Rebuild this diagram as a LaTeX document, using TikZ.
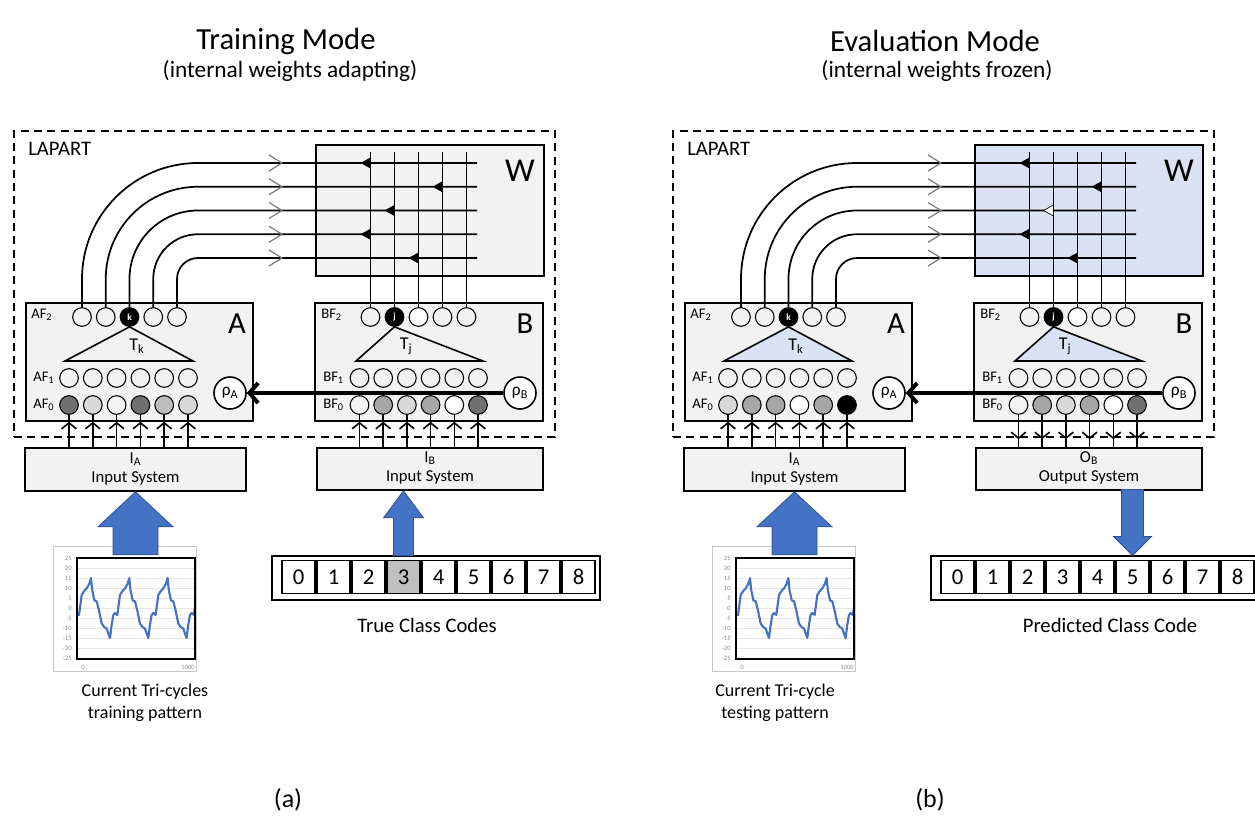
\documentclass[tikz,border=0pt]{standalone}
\usepackage{fontspec}
\setmainfont{Carlito}
\usetikzlibrary{arrows.meta,calc,fit}

\definecolor{panelgray}{HTML}{F2F2F2}
\definecolor{frozenblue}{HTML}{DAE3F3}
\definecolor{flowblue}{HTML}{4472C4}
\definecolor{flowedge}{HTML}{2F528F}
\definecolor{gridgray}{HTML}{E6E6E6}
\definecolor{axisgray}{HTML}{8C8C8C}
\definecolor{framegray}{HTML}{C8C8C8}
\definecolor{barbgray}{HTML}{7A7A7A}
\definecolor{cellgray}{HTML}{BFBFBF}
\definecolor{sdark}{HTML}{707070}
\definecolor{smid}{HTML}{A6A6A6}
\definecolor{smidl}{HTML}{BDBDBD}
\definecolor{slight}{HTML}{D9D9D9}
\definecolor{svlight}{HTML}{F4F4F4}

\newcommand{\pxsize}[2]{\fontsize{#1}{#2}\selectfont}

\tikzset{
  ttl/.style={font=\pxsize{23}{27}, inner sep=0pt},
  subttl/.style={font=\pxsize{17.5}{21}, inner sep=0pt},
  caption/.style={font=\pxsize{19.5}{23}, inner sep=0pt},
  lapartbox/.style={draw, dash pattern=on 6pt off 4pt, line width=1.2pt, inner sep=0pt},
  lapartlbl/.style={font=\pxsize{15.5}{18}, inner sep=0pt},
  modbox/.style={draw, fill=panelgray, line width=1.2pt, inner sep=0pt},
  wbox/.style={draw, line width=1.2pt, inner sep=0pt, Wfill},
  bigletter/.style={font=\pxsize{23}{26}, inner sep=0pt},
  layerlbl/.style={font=\pxsize{11}{13}, inner sep=0pt, anchor=west},
  neuron/.style={circle, draw, line width=0.8pt, minimum size=14pt, inner sep=0pt},
  winner/.style={neuron, fill=black, text=white, font=\bfseries\pxsize{7}{8}},
  blank/.style={neuron, fill=white},
  rho/.style={circle, draw, fill=white, line width=1.2pt, minimum size=24pt, inner sep=0pt, font=\pxsize{13}{15}},
  tri/.style={draw, line width=1.2pt, line join=miter, Tfill},
  tlbl/.style={font=\pxsize{13.5}{16}, inner sep=0pt},
  wline/.style={line width=1.3pt},
  barb/.style={draw=barbgray, line width=0.9pt},
  wmark/.style={fill=black},
  hollowmark/.style={fill=white, draw=black, line width=0.5pt},
  feed/.style={line width=1.2pt},
  feedtip/.style={line width=1.2pt, -{Straight Barb[length=4.5pt,width=11pt]}},
  reset/.style={line width=3pt, -{Straight Barb[length=6.5pt,width=15pt]}},
  iobox/.style={draw, fill=panelgray, line width=1.2pt, inner sep=0pt},
  iotext/.style={align=center, font=\pxsize{12.5}{14.5}, inner sep=0pt},
  blockarrow/.style={fill=flowblue, draw=flowedge, line width=0.6pt, line join=miter},
  chartframe/.style={draw=framegray, line width=0.6pt},
  gridline/.style={draw=gridgray, line width=0.6pt},
  plotframe/.style={draw=black, line width=0.8pt},
  axlbl/.style={font=\pxsize{5}{6}, text=axisgray, inner sep=0pt},
  wave/.style={draw=flowblue, line width=1.6pt, line join=round, line cap=round},
  codeouter/.style={draw, line width=0.8pt, inner sep=0pt},
  codecell/.style={draw, line width=0.8pt, minimum width=24.75pt, minimum height=24.75pt, inner sep=0pt, font=\pxsize{17}{20}},
  note/.style={font=\pxsize{13.5}{16.5}, align=center, inner sep=0pt},
  codenote/.style={font=\pxsize{15.5}{18}, inner sep=0pt},
}

% One LAPART panel: #1 name prefix, #2 AF0 shades, #3 BF0 shades,
% #4 text of the B-side system box, #5 fills of the nine class-code cells
\newcommand{\lapartcore}[5]{%
  \node[lapartbox, fit={(14,131) (555,437)}] (#1-lap) {};
  \node[lapartlbl, anchor=west] (#1-laplbl) at (28,149) {LAPART};
  % weight matrix
  \node[wbox, fit={(316,145) (544,276)}] (#1-W) {};
  \node[bigletter, font=\pxsize{25}{28}] (#1-Wl) at (520,171) {W};
  % modules A and B
  \node[modbox, fit={(26,303) (253,421)}] (#1-A) {};
  \node[modbox, fit={(315,303) (543,421)}] (#1-B) {};
  \node[bigletter] (#1-Al) at (237,324) {A};
  \node[bigletter] (#1-Bl) at (525,324) {B};
  \node[layerlbl] (#1-af2l) at (31,315) {AF\textsubscript{2}};
  \node[layerlbl] (#1-af1l) at (33,378) {AF\textsubscript{1}};
  \node[layerlbl] (#1-af0l) at (33,405) {AF\textsubscript{0}};
  \node[layerlbl] (#1-bf2l) at (321,315) {BF\textsubscript{2}};
  \node[layerlbl] (#1-bf1l) at (323,378) {BF\textsubscript{1}};
  \node[layerlbl] (#1-bf0l) at (323,405) {BF\textsubscript{0}};
  % F2 category layers
  \foreach \n/\st/\txt in {1/neuron/{},2/neuron/{},3/winner/k,4/neuron/{},5/neuron/{}}
    \node[\st] (#1-a2-\n) at ({82+23.75*(\n-1)},317) {\txt};
  \foreach \n/\st/\txt in {1/neuron/{},2/winner/j,3/blank/{},4/neuron/{},5/neuron/{}}
    \node[\st] (#1-b2-\n) at ({370.5+24*(\n-1)},317) {\txt};
  % templates
  \draw[tri] (#1-a2-3.south) -- (65,361) -- (193,361) -- cycle;
  \node[tlbl] (#1-tk) at (137,346) {T\textsubscript{k}};
  \draw[tri] (#1-b2-2.south) -- (356,361) -- (483,361) -- cycle;
  \node[tlbl] (#1-tj) at (406,346) {T\textsubscript{j}};
  % F1 and F0 layers
  \foreach \n in {1,...,6} {
    \node[neuron] (#1-a1-\n) at ({69+23.8*(\n-1)},378) {};
    \node[neuron] (#1-b1-\n) at ({359.5+23.7*(\n-1)},378) {};
  }
  \foreach \sh [count=\n] in {#2}
    \node[neuron, fill=\sh] (#1-a0-\n) at ({69+23.8*(\n-1)},405) {};
  \foreach \sh [count=\n] in {#3}
    \node[neuron, fill=\sh] (#1-b0-\n) at ({359.5+23.7*(\n-1)},405) {};
  % vigilance nodes and the reset link
  \node[rho] (#1-rA) at (230,393) {ρ\textsubscript{A}};
  \node[rho] (#1-rB) at (520,393) {ρ\textsubscript{B}};
  \draw[reset] (#1-rB) -- (#1-rA);
  % inter-ART map field wiring
  \coordinate (#1-wtop) at (0,152);
  \foreach \n in {1,...,5}
    \coordinate (#1-row-\n) at (477,{163+23.75*(\n-1)});
  \foreach \n in {1,...,5}
    \draw[wline] (#1-b2-\n.north) -- (#1-b2-\n.north |- #1-wtop);
  \foreach \n/\r in {1/87pt,2/69.19pt,3/51.38pt,4/33.56pt,5/15.75pt}
    \draw[wline, rounded corners=\r] (#1-a2-\n.north) |- (#1-row-\n);
  \foreach \n in {1,...,5}
    \draw[barb] ($(#1-row-\n)+(-208,-8)$) -- ($(#1-row-\n)+(-195,0)$) -- ($(#1-row-\n)+(-208,8)$);
  \foreach \r/\k/\st in {1/1/wmark,2/4/wmark,3/2/thirdmark,4/1/wmark,5/3/wmark}
    \path[\st] (#1-b2-\k.north |- #1-row-\r) ++(0,-5.5) -- ++(0,11) -- ++(-10,-5.5) -- cycle;
  % input system of A
  \node[iobox, fit={(25,448) (246,491)}] (#1-inA) {};
  \node[iotext] (#1-inAt) at (135.5,469) {I\textsubscript{A}\\Input System};
  \foreach \n in {1,...,6} {
    \draw[feedtip] (#1-a0-\n |- #1-inA.north) -- (#1-a0-\n |- #1-A.south);
    \draw[feed] (#1-a0-\n |- #1-A.south) -- (#1-a0-\n.south);
  }
  % system box of B
  \node[iobox, fit={(317,448) (543,490)}] (#1-io) {};
  \node[iotext] (#1-iot) at (430,468) {#4};
  % time series chart
  \draw[chartframe] (53,546) rectangle (196,671);
  \foreach \q in {0,...,10}
    \draw[gridline] (77,{558+10*\q}) -- (195,{558+10*\q});
  \foreach \q/\lab in {0/25,1/20,2/15,3/10,4/5,5/0,6/-5,7/-10,8/-15,9/-20,10/-25}
    \node[axlbl, anchor=east] at (72,{558+10*\q}) {\lab};
  \node[axlbl] at (83,667) {0};
  \node[axlbl] at (188,667) {1000};
  \begin{scope}
    \clip (77,558) rectangle (195,659);
    \draw[wave] (71.7,638)
      \foreach \cyc in {0,1,2,3} {
        \foreach \dx/\v in {0/-15,1.5/-9,3.3/-3.5,5/-2.5,7.3/-3.5,10/6.5,12.5/8.5,15/9.8,17.5/12,19.3/15,20.5/9,22.7/3.8,25/3.3,27.3/-1.2,30/-7.8,32.5/-9.5,35/-10.3,36.8/-13} {
          -- ({71.7+38.3*\cyc+\dx},{608-2*(\v)})
        }
      };
  \end{scope}
  \draw[plotframe] (77,558) rectangle (195,659);
  % block arrow into input system A
  \path[blockarrow] (#1-inA.south) -- ++(37.5,35) -- ++(-15,0) -- ++(0,28) -- ++(-45,0)
    -- ++(0,-28) -- ++(-15,0) -- cycle;
  % class code strip
  \node[codeouter, fit={(272,556) (600,600)}] (#1-codes) {};
  \foreach \fc [count=\i from 0] in {#5}
    \node[codecell, fill=\fc] (#1-c\i) at ({298.5+35*\i},577) {\i};
}

\begin{document}
\begin{tikzpicture}[x=0.75pt, y=-0.75pt]
\useasboundingbox (0,0) rectangle (1255,821);

% headings
\node[ttl] (ttlA) at (286,41) {Training Mode};
\node[subttl] (subA) at (290,71) {(internal weights adapting)};
\node[ttl] (ttlB) at (935,41) {Evaluation Mode};
\node[subttl] (subB) at (937,71) {(internal weights frozen)};

% training mode
\begin{scope}[Tfill/.style={}, Wfill/.style={fill=panelgray}, thirdmark/.style={wmark}]
  \lapartcore{L}{sdark,slight,svlight,sdark,smidl,slight}{svlight,smid,slight,smid,white,sdark}
    {I\textsubscript{B}\\Input System}{white,white,white,cellgray,white,white,white,white,white}
  \foreach \n in {1,...,6} {
    \draw[feedtip] (L-b0-\n |- L-io.north) -- (L-b0-\n |- L-B.south);
    \draw[feed] (L-b0-\n |- L-B.south) -- (L-b0-\n.south);
  }
  \path[blockarrow] (L-c3 |- L-io.south) -- ++(20,27) -- ++(-10,0) -- ++(0,38) -- ++(-20,0)
    -- ++(0,-38) -- ++(-10,0) -- cycle;
  \node[note] (L-series) at (145,703) {Current Tri-cycles\\training pattern};
  \node[codenote] (L-codelbl) at (427,625) {True Class Codes};
  \node[caption] (capA) at (288,800) {(a)};
\end{scope}

% evaluation mode
\begin{scope}[shift={(659,0)}, Tfill/.style={fill=frozenblue}, Wfill/.style={fill=frozenblue}, thirdmark/.style={hollowmark}]
  \lapartcore{R}{slight,smid,smid,white,smid,black}{svlight,smid,slight,smid,white,sdark}
    {O\textsubscript{B}\\Output System}{white,white,white,white,white,white,white,white,white}
  \foreach \n in {1,...,6} {
    \draw[feedtip] (R-b0-\n.south) -- ($(R-b0-\n |- R-io.north)+(0,-8)$);
    \draw[feed] ($(R-b0-\n |- R-io.north)+(0,-8)$) -- (R-b0-\n |- R-io.north);
  }
  \path[blockarrow] (R-c5 |- R-codes.north) -- ++(19,-19) -- ++(-8,0) -- ++(0,-47) -- ++(-22,0)
    -- ++(0,47) -- ++(-8,0) -- cycle;
  \node[note] (R-series) at (116,703) {Current Tri-cycle\\testing pattern};
  \node[codenote] (R-codelbl) at (451,625) {Predicted Class Code};
  \node[caption] (capB) at (271,800) {(b)};
\end{scope}
\end{tikzpicture}
\end{document}
